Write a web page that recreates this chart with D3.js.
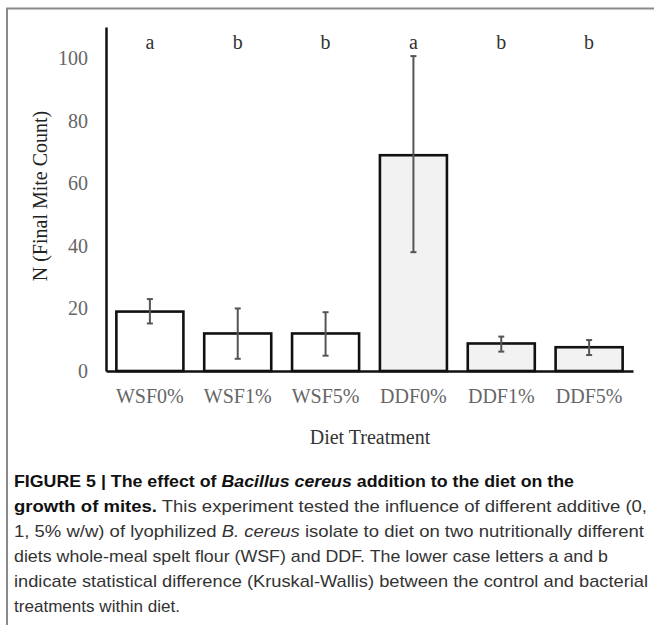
<!DOCTYPE html>
<html>
<head>
<meta charset="utf-8">
<script src="https://cdn.jsdelivr.net/npm/d3@7"></script>
<style>
  html, body { margin: 0; padding: 0; background: #fff; }
  svg { display: block; }
</style>
</head>
<body>
<svg id="chart" width="654" height="625"></svg>
<script>
// ---- data ----
const categories = ["WSF0%", "WSF1%", "WSF5%", "DDF0%", "DDF1%", "DDF5%"];
const means      = [19, 12, 12, 69, 8.8, 7.6];
const errUpper   = [23, 20, 18.8, 100.7, 11, 9.9];
const errLower   = [15.2, 3.9, 4.9, 38, 6.2, 5.1];
const letters    = ["a", "b", "b", "a", "b", "b"];
const diets      = ["WSF", "WSF", "WSF", "DDF", "DDF", "DDF"];
const yTicks     = [0, 20, 40, 60, 80, 100];

const captionLines = [
  [{t: "FIGURE 5 | The effect of ", b: true}, {t: "Bacillus cereus", b: true, i: true}, {t: " addition to the diet on the", b: true}],
  [{t: "growth of mites.", b: true}, {t: " This experiment tested the influence of different additive (0,"}],
  [{t: "1, 5% w/w) of lyophilized "}, {t: "B. cereus", i: true}, {t: " isolate to diet on two nutritionally different"}],
  [{t: "diets whole-meal spelt flour (WSF) and DDF. The lower case letters a and b"}],
  [{t: "indicate statistical difference (Kruskal-Wallis) between the control and bacterial"}],
  [{t: "treatments within diet."}]
];
const captionWidths = [560, 633, 630, 594, 634, 166];

const svg = d3.select("#chart");

// frame
svg.append("path")
  .attr("d", "M7,700 L7,8.5 L700,8.5")
  .attr("fill", "none").attr("stroke", "#8a8a8a").attr("stroke-width", 2);

const x = d3.scaleBand().domain(categories).range([106, 633]).paddingInner(0.237).paddingOuter(0.118);
const y = d3.scaleLinear().domain([0, 110]).range([371, 27]);

const serif = "'Liberation Serif', 'Times New Roman', serif";

// y axis
const yAxis = d3.axisLeft(y).tickValues(yTicks).tickSize(0).tickPadding(18).tickFormat(d3.format("d"));
const gy = svg.append("g").attr("transform", "translate(106,0)").call(yAxis);
gy.select(".domain").attr("stroke", "#111").attr("stroke-width", 2.5);
gy.selectAll("text").attr("font-family", serif).attr("font-size", 20).attr("fill", "#666");

// bars
svg.append("g").selectAll("rect").data(categories).join("rect")
  .attr("x", d => x(d))
  .attr("y", (d, i) => y(means[i]))
  .attr("width", x.bandwidth())
  .attr("height", (d, i) => y(0) - y(means[i]))
  .attr("fill", (d, i) => diets[i] === "WSF" ? "#ffffff" : "#f2f2f2")
  .attr("stroke", "#111").attr("stroke-width", 2.6);

// x axis
const xAxis = d3.axisBottom(x).tickSize(0).tickPadding(18);
const gx = svg.append("g").attr("transform", "translate(0,371)").call(xAxis);
gx.select(".domain").attr("stroke", "#111").attr("stroke-width", 2.5);
gx.selectAll("text").attr("font-family", serif).attr("font-size", 20).attr("fill", "#666");

// error bars
const eb = svg.append("g").attr("stroke", "#555").attr("stroke-width", 2);
categories.forEach((c, i) => {
  const cx = x(c) + x.bandwidth() / 2;
  eb.append("line").attr("x1", cx).attr("x2", cx).attr("y1", y(errUpper[i])).attr("y2", y(errLower[i]));
  eb.append("line").attr("x1", cx - 3).attr("x2", cx + 3).attr("y1", y(errUpper[i])).attr("y2", y(errUpper[i]));
  eb.append("line").attr("x1", cx - 3).attr("x2", cx + 3).attr("y1", y(errLower[i])).attr("y2", y(errLower[i]));
});

// significance letters
svg.append("g").selectAll("text").data(categories).join("text")
  .attr("x", d => x(d) + x.bandwidth() / 2)
  .attr("y", 49)
  .attr("text-anchor", "middle")
  .attr("font-family", serif).attr("font-size", 20).attr("fill", "#333")
  .text((d, i) => letters[i]);

// axis titles
svg.append("text")
  .attr("transform", "translate(47,196) rotate(-90)")
  .attr("text-anchor", "middle")
  .attr("font-family", serif).attr("font-size", 20).attr("fill", "#222")
  .text("N (Final Mite Count)");

svg.append("text")
  .attr("x", 370).attr("y", 444)
  .attr("text-anchor", "middle")
  .attr("font-family", serif).attr("font-size", 20).attr("fill", "#333")
  .text("Diet Treatment");

// caption
const cap = svg.append("g").attr("font-family", "'Liberation Sans', Arial, sans-serif").attr("font-size", 17).attr("fill", "#333");
captionLines.forEach((line, li) => {
  const t = cap.append("text").attr("x", 14).attr("y", 487 + li * 25)
    .attr("textLength", captionWidths[li]).attr("lengthAdjust", "spacingAndGlyphs");
  line.forEach(s => {
    t.append("tspan")
      .attr("font-weight", s.b ? "bold" : null)
      .attr("font-style", s.i ? "italic" : null)
      .attr("fill", s.b ? "#111" : null)
      .text(s.t);
  });
});
</script>
</body>
</html>
